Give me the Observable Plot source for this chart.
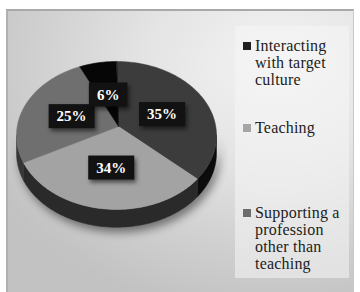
<!DOCTYPE html>
<html><head><meta charset="utf-8">
<script src="https://cdn.jsdelivr.net/npm/d3@7"></script>
<script src="https://cdn.jsdelivr.net/npm/@observablehq/plot@0.6"></script>
<style>
html,body{margin:0;padding:0;background:#fff;}
#wrap{position:relative;width:360px;height:292px;overflow:hidden;}
#frame{position:absolute;left:6px;top:9px;width:348px;height:285px;box-sizing:border-box;
  border-top:2px solid #a9a9a9;border-left:2px solid #b0b0b0;border-right:1px solid #c8c8c8;
  background:radial-gradient(ellipse 95% 90% at 78% 18%, #f3f3f3 0%, #e4e4e4 40%, #cfcfcf 75%, #c2c2c2 100%);}
#chart{position:absolute;left:0;top:0;}
#legend{position:absolute;left:235px;top:26px;width:114px;height:252px;background:rgba(245,245,245,0.55);
  font-family:"Liberation Serif",serif;font-size:16px;line-height:17px;color:#1c1c1c;}
.item{position:absolute;left:8px;}
.sw{position:absolute;left:0;top:5px;width:8px;height:8px;}
.tx{position:absolute;left:12px;white-space:nowrap;letter-spacing:0.2px;}
.sides{filter:drop-shadow(3px 5px 4px rgba(0,0,0,0.45));}
.lbl rect{filter:drop-shadow(2px 3px 2px rgba(0,0,0,0.55));}
</style></head>
<body>
<div id="wrap"><div id="frame"></div><div id="chart"></div><div id="legend"></div></div>
<script>
// ---- data ----
const categories = ["(unlabelled)", "Teaching", "Supporting a profession other than teaching", "Interacting with target culture"];
const values = [35, 34, 25, 6];
const legendCategories = ["Interacting with target culture", "Teaching", "Supporting a profession other than teaching"];
const legendLines = [["Interacting", "with target", "culture"], ["Teaching"], ["Supporting a", "profession", "other than", "teaching"]];

// ---- styles ----
const topColor = {"(unlabelled)": "#3c3c3c", "Teaching": "#a3a3a3", "Supporting a profession other than teaching": "#6f6f6f", "Interacting with target culture": "#060606"};
const sideColor = {"(unlabelled)": "#0c0c0c", "Teaching": "#2a2a2a", "Supporting a profession other than teaching": "#363636", "Interacting with target culture": "#000"};
const swatchColor = {"Interacting with target culture": "#1e1e1e", "Teaching": "#a6a6a6", "Supporting a profession other than teaching": "#6c6c6c"};
const depth = 0.24;
const apex = [0.02, -0.12]; // perspective: projected pie centre sits above the ellipse centre

const rows = categories.map((c, i) => ({category: c, value: values[i]}));
const arcs = d3.pie().sort(null).value(d => d.value)(rows);
const pt = a => [Math.sin(a), -Math.cos(a)];
const step = Math.PI / 180;
function arcPts(a0, a1) {
  const n = Math.max(2, Math.ceil((a1 - a0) / step));
  return d3.range(n + 1).map(k => pt(a0 + (a1 - a0) * k / n));
}
const topPts = [], sidePts = [], labels = [];
arcs.forEach((a, i) => {
  const c = a.data.category;
  topPts.push({id: i, x: apex[0], y: apex[1], color: topColor[c]});
  arcPts(a.startAngle, a.endAngle).forEach(([x, y]) => topPts.push({id: i, x, y, color: topColor[c]}));
  const s0 = Math.max(a.startAngle, Math.PI / 2), s1 = Math.min(a.endAngle, 3 * Math.PI / 2);
  if (s1 > s0) {
    const p = arcPts(s0, s1);
    p.forEach(([x, y]) => sidePts.push({id: i, x, y, color: sideColor[c]}));
    p.slice().reverse().forEach(([x, y]) => sidePts.push({id: i, x, y: y + depth, color: sideColor[c]}));
  }
  const m = (a.startAngle + a.endAngle) / 2;
  const [mx, my] = pt(m);
  labels.push({x: apex[0] + (mx - apex[0]) * 0.5, y: apex[1] + (my - apex[1]) * 0.5, text: a.data.value + "%"});
});

const chart = Plot.plot({
  width: 235, height: 292, margin: 0,
  style: {background: "transparent", overflow: "visible"},
  x: {domain: [-1.16, 1.19], axis: null},
  y: {domain: [-1.824, 2.122], range: [0, 292], axis: null},
  color: {type: "identity"},
  marks: [
    Plot.line(sidePts, {x: "x", y: "y", z: "id", fill: "color", stroke: "color", strokeWidth: 0.5, curve: "linear-closed", className: "sides"}),
    Plot.line(topPts, {x: "x", y: "y", z: "id", fill: "color", stroke: "color", strokeWidth: 0.5, curve: "linear-closed"}),
    Plot.text(labels, {x: "x", y: "y", text: "text", fill: "white", fontSize: 15, fontWeight: "bold", fontFamily: "Liberation Serif", className: "lbl"})
  ]
});
document.getElementById("chart").appendChild(chart);

// boxes behind data labels
chart.querySelectorAll(".lbl text").forEach(t => {
  const bb = t.getBBox();
  const r = document.createElementNS("http://www.w3.org/2000/svg", "rect");
  r.setAttribute("x", bb.x - 8);
  r.setAttribute("y", bb.y + bb.height / 2 - 12);
  r.setAttribute("width", bb.width + 16);
  r.setAttribute("height", 24);
  r.setAttribute("fill", "#121212");
  const tr = t.getAttribute("transform");
  if (tr) r.setAttribute("transform", tr);
  t.parentNode.insertBefore(r, t);
});

// legend
const legend = document.getElementById("legend");
const tops = [10.5, 92.5, 177.5];
legendCategories.forEach((c, i) => {
  const it = document.createElement("div");
  it.className = "item";
  it.style.top = tops[i] + "px";
  const sw = document.createElement("div");
  sw.className = "sw"; sw.style.background = swatchColor[c];
  const tx = document.createElement("div");
  tx.className = "tx"; tx.innerHTML = legendLines[i].join("<br>");
  it.appendChild(sw); it.appendChild(tx);
  legend.appendChild(it);
});
</script>
</body></html>
